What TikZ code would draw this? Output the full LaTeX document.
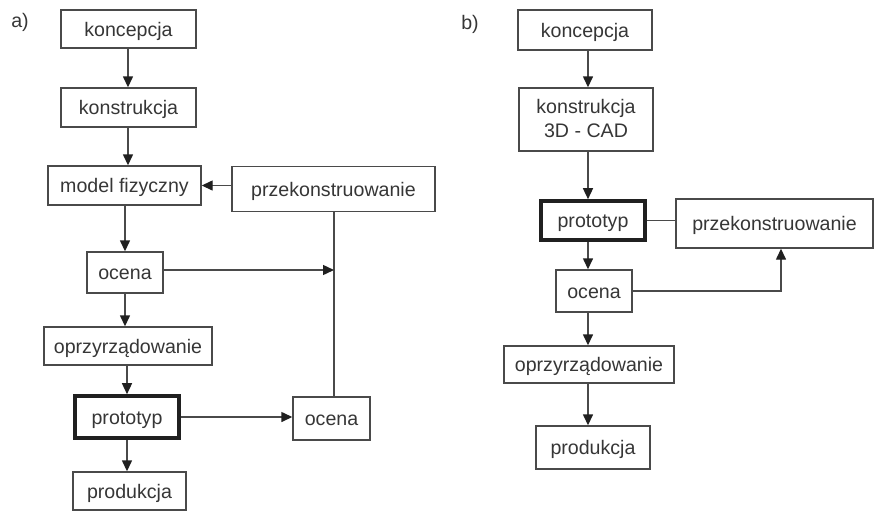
\documentclass[tikz,border=0pt]{standalone}
\usepackage{fontspec}
\setmainfont{Liberation Sans}
\usetikzlibrary{arrows.meta}
\definecolor{linec}{HTML}{4A4A4A}
\definecolor{textc}{HTML}{363636}
\definecolor{boldc}{HTML}{202020}
\definecolor{tipc}{HTML}{202020}
\begin{document}
\begin{tikzpicture}[x=1pt,y=-1pt,
  box/.style={draw=linec,line width=1.4pt,text=textc,inner sep=0pt,align=center,
    text height=14pt,text depth=0pt,
    font=\fontsize{19.6}{24}\selectfont},
  boldbox/.style={box,draw=boldc,line width=3.6pt},
  conn/.style={draw=linec,line width=1.4pt},
  arr/.style={conn,-{Triangle[length=11pt,width=10pt,color=tipc]}},
  lbl/.style={text=textc,inner sep=0pt,font=\fontsize{19.6}{24}\selectfont}]
\useasboundingbox (0,0) rectangle (875,512);
% ---------- a) ----------
\node[lbl] (la) at (20,22) {a)};
\node[box,minimum width=135pt,minimum height=38pt] (a1) at (128.5,29) {koncepcja};
\node[box,minimum width=135pt,minimum height=39pt] (a2) at (128.5,107.5) {konstrukcja};
\node[box,minimum width=153pt,minimum height=39pt] (a3) at (124.5,185.5) {model fizyczny};
\node[box,minimum width=203pt,minimum height=45pt] (apk) at (333.5,189) {przekonstruowanie};
\node[box,minimum width=76pt,minimum height=41pt] (a4) at (125,272.5) {ocena};
\node[box,minimum width=168pt,minimum height=38pt] (a5) at (128,346) {oprzyrządowanie};
\node[boldbox,minimum width=104pt,minimum height=42pt] (a6) at (127,417) {prototyp};
\node[box,minimum width=77pt,minimum height=43pt] (aoc) at (331.5,418.5) {ocena};
\node[box,minimum width=113pt,minimum height=38pt] (a7) at (129.5,491) {produkcja};
\coordinate (ax1) at (128,0);
\coordinate (ax2) at (125,0);
\coordinate (ax3) at (127,0);
\coordinate (aloop) at (334,270);
\draw[arr] (a1.south -| ax1) -- (a2.north -| ax1);
\draw[arr] (a2.south -| ax1) -- (a3.north -| ax1);
\draw[arr] (a3.south -| ax2) -- (a4.north -| ax2);
\draw[arr] (a4.south -| ax2) -- (a5.north -| ax2);
\draw[arr] (a5.south -| ax3) -- (a6.north -| ax3);
\draw[arr] (a6.south -| ax3) -- (a7.north -| ax3);
\draw[arr] (apk.west |- a3.east) -- (a3.east);
\draw[arr] (a6.east) -- (aoc.west |- a6.east);
\draw[conn] (aoc.north -| aloop) -- (apk.south -| aloop);
\draw[arr] (a4.east |- aloop) -- (aloop);
% ---------- b) ----------
\node[lbl] (lb) at (470,24) {b)};
\node[box,minimum width=134pt,minimum height=40pt] (b1) at (585,30) {koncepcja};
\node[box,minimum width=134pt,minimum height=63pt,text height=36pt] (b2) at (586,119.5) {konstrukcja\\3D - CAD};
\node[boldbox,minimum width=104pt,minimum height=39pt] (b3) at (593,220.5) {prototyp};
\node[box,minimum width=197pt,minimum height=49pt] (bpk) at (774.5,223.5) {przekonstruowanie};
\node[box,minimum width=76pt,minimum height=42pt] (b4) at (594,291) {ocena};
\node[box,minimum width=170pt,minimum height=37pt] (b5) at (589,364.5) {oprzyrządowanie};
\node[box,minimum width=114pt,minimum height=43pt] (b6) at (593,447.5) {produkcja};
\coordinate (bx) at (588,0);
\coordinate (bloop) at (781,291);
\draw[arr] (b1.south -| bx) -- (b2.north -| bx);
\draw[arr] (b2.south -| bx) -- (b3.north -| bx);
\draw[arr] (b3.south -| bx) -- (b4.north -| bx);
\draw[arr] (b4.south -| bx) -- (b5.north -| bx);
\draw[arr] (b5.south -| bx) -- (b6.north -| bx);
\draw[conn] (b3.east) -- (bpk.west |- b3.east);
\draw[arr] (b4.east) -- (bloop) -- (bpk.south -| bloop);
\end{tikzpicture}
\end{document}
